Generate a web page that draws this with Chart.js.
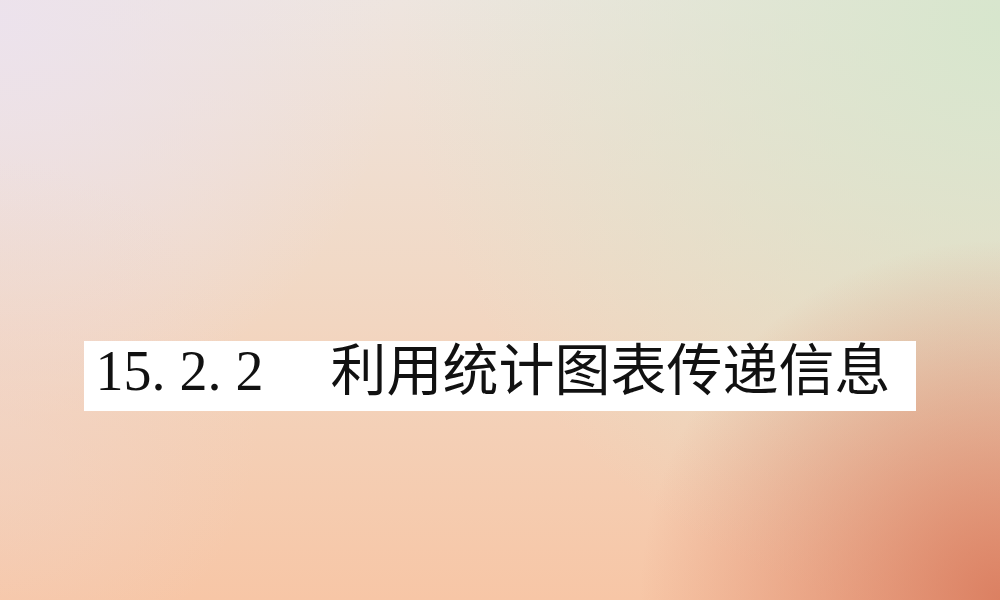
<!DOCTYPE html>
<html lang="zh-CN">
<head>
<meta charset="utf-8">
<title>15.2.2 利用统计图表传递信息</title>
<script src="https://cdn.jsdelivr.net/npm/chart.js@4"></script>
<style>
  html, body { margin: 0; padding: 0; background: #f2dcc8; }
  #wrap { width: 1000px; height: 600px; }
</style>
</head>
<body>
<div id="wrap"><canvas id="slide" width="1000" height="600"></canvas></div>
<script>
// the slide carries no data series, only its section title
const sectionNumber = '15. 2. 2';
const sectionTitle = '利用统计图表传递信息';
const categories = [];
const values = [];

// soft gradient background and the white band behind the title
const slideBackground = {
  id: 'slideBackground',
  beforeDraw(chart) {
    const { ctx, width, height } = chart;
    ctx.save();

    const base = ctx.createLinearGradient(0, 0, 0, height);
    base.addColorStop(0, '#eee5df');
    base.addColorStop(0.45, '#f1d9c6');
    base.addColorStop(1, '#f7c6a6');
    ctx.fillStyle = base;
    ctx.fillRect(0, 0, width, height);

    const glow = (x, y, r, color) => {
      const g = ctx.createRadialGradient(x, y, 0, x, y, r);
      g.addColorStop(0, color);
      g.addColorStop(1, color.replace(/[\d.]+\)$/, '0)'));
      ctx.fillStyle = g;
      ctx.fillRect(0, 0, width, height);
    };
    glow(1000, 20, 600, 'rgba(214,230,204,0.95)');
    glow(0, 20, 400, 'rgba(236,226,238,0.9)');
    glow(1000, 600, 360, 'rgba(218,124,94,0.95)');
    glow(0, 420, 260, 'rgba(240,214,204,0.5)');

    ctx.fillStyle = '#ffffff';
    ctx.fillRect(84, 341, 832, 70);
    ctx.restore();
  }
};

new Chart(document.getElementById('slide').getContext('2d'), {
  type: 'bar',
  data: {
    labels: categories,
    datasets: [{ label: sectionTitle, data: values }]
  },
  options: {
    responsive: false,
    animation: false,
    events: [],
    layout: { padding: { left: 0, right: 14 } },
    scales: {
      x: { display: false },
      y: { display: false }
    },
    plugins: {
      legend: { display: false },
      tooltip: { enabled: false },
      title: {
        display: true,
        text: sectionNumber + '\u3000\u2009' + sectionTitle,
        color: '#111111',
        align: 'center',
        font: {
          family: '"Liberation Serif", "Noto Sans CJK SC", serif',
          size: 56,
          weight: 'normal',
          lineHeight: 1.2
        },
        padding: { top: 342, bottom: 0 }
      }
    }
  },
  plugins: [slideBackground]
});
</script>
</body>
</html>
